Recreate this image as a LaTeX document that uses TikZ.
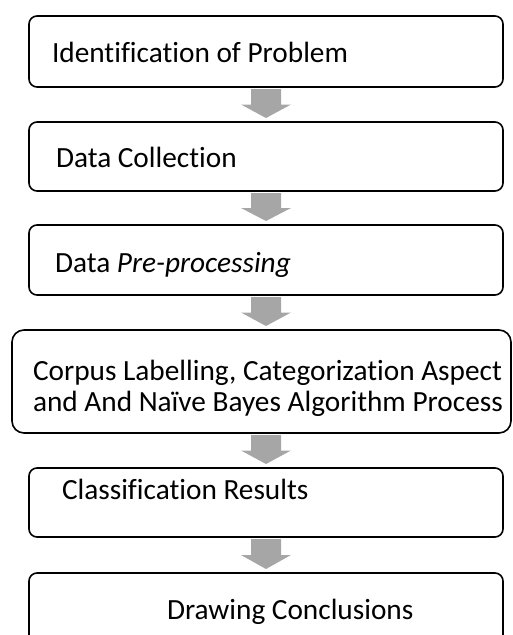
\documentclass[tikz,border=0pt]{standalone}
\usepackage{fontspec}
\setmainfont{Carlito}[Ligatures=NoCommon]
\usetikzlibrary{calc}
\definecolor{arrgray}{HTML}{A6A6A6}
\tikzset{
  box/.style={draw=black, line width=1.6pt, rounded corners=8pt, fill=white,
    minimum width=474pt, inner sep=0pt, outer sep=0pt, anchor=north west},
  lbl/.style={anchor=base west, inner sep=0pt, outer sep=0pt, font=\fontsize{29.3}{31}\selectfont},
  arrfill/.style={fill=arrgray, draw=none},
}
\newcommand\myblockarrow[3]{%
  \fill[arrfill] let \p1=(#1.south), \p2=(#2.north), \p3=(#3.center),
    \n1={0.5*(\y1+\y2)} in
    (\x3-15pt,\y1-2pt) -- (\x3+15pt,\y1-2pt) -- (\x3+15pt,\n1) -- (\x3+25pt,\n1)
    -- (\x3,\y2+4pt) -- (\x3-25pt,\n1) -- (\x3-15pt,\n1) -- cycle;}
\begin{document}
\begin{tikzpicture}[x=1pt,y=-1pt]
\useasboundingbox (0,0) rectangle (513,635);
\clip (0,0) rectangle (513,635);
% boxes
\node[box, minimum height=71pt] (b1) at (29,16) {};
\node[box, minimum height=69pt] (b2) at (29,122) {};
\node[box, minimum height=70pt] (b3) at (29,225) {};
\node[box, minimum height=103pt, minimum width=499pt, rounded corners=12pt] (b4) at (12,330) {};
\node[box, minimum height=69pt] (b5) at (29,468) {};
\node[box, minimum height=90pt] (b6) at (29,573) {};
% texts
\node[lbl] (t1) at ($(b1.north west)+(23,46)$) {Identification of Problem};
\node[lbl] (t2) at ($(b2.north west)+(27,45)$) {Data Collection};
\node[lbl] (t3) at ($(b3.north west)+(26,47)$) {Data \textit{Pre-processing}};
\node[lbl] (t4a) at ($(b4.north west)+(21,50)$) {Corpus Labelling, Categorization Aspect};
\node[lbl] (t4b) at ($(b4.north west)+(21,81)$) {and And Naïve Bayes Algorithm Process};
\node[lbl] (t5) at ($(b5.north west)+(33,31)$) {Classification Results};
\node[lbl] (t6) at ($(b6.north west)+(138,46)$) {Drawing Conclusions};
% block arrows
\myblockarrow{b1}{b2}{b1}
\myblockarrow{b2}{b3}{b2}
\myblockarrow{b3}{b4}{b3}
\myblockarrow{b4}{b5}{b5}
\myblockarrow{b5}{b6}{b5}
\end{tikzpicture}
\end{document}
